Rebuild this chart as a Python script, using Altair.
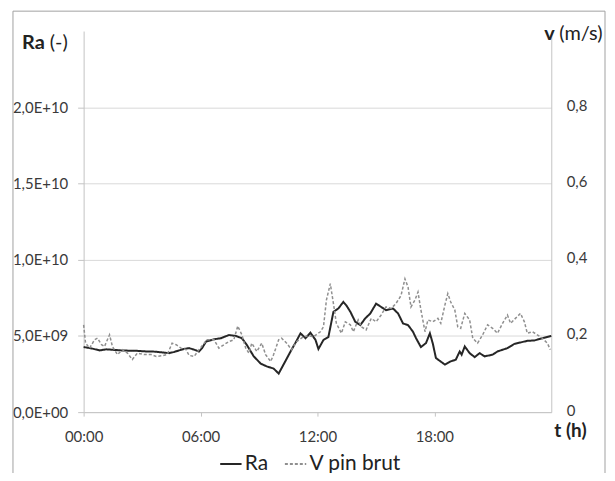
import altair as alt
import pandas as pd

# ---- data ----
ra_hours = [0.0, 0.41, 0.82, 1.17, 1.48, 1.94, 2.35, 2.76, 3.22, 3.63, 4.03, 4.39, 4.65, 4.90,
            5.16, 5.41, 5.67, 5.92, 6.08, 6.28, 6.69, 7.05, 7.46, 7.81, 8.12, 8.37, 8.73, 9.09,
            9.40, 9.75, 10.01, 10.26, 10.62, 10.88, 11.13, 11.39, 11.64, 11.90, 12.05, 12.31,
            12.56, 12.82, 13.07, 13.33, 13.48, 13.69, 13.94, 14.20, 14.45, 14.71, 15.01, 15.27,
            15.52, 15.88, 16.14, 16.39, 16.65, 16.90, 17.06, 17.31, 17.57, 17.77, 17.92, 18.08,
            18.54, 18.84, 19.10, 19.30, 19.40, 19.56, 19.81, 20.07, 20.32, 20.58, 20.99, 21.24,
            21.75, 22.11, 22.42, 22.77, 23.13, 23.54, 24.0]
ra_values = [4.27e9, 4.18e9, 4.05e9, 4.12e9, 4.09e9, 4.05e9, 4.03e9, 4.02e9, 3.98e9, 3.97e9,
             3.92e9, 3.87e9, 3.95e9, 4.05e9, 4.15e9, 4.20e9, 4.10e9, 3.98e9, 4.20e9, 4.63e9,
             4.78e9, 4.85e9, 5.06e9, 5.00e9, 4.85e9, 4.42e9, 3.66e9, 3.18e9, 3.00e9, 2.86e9,
             2.53e9, 3.12e9, 3.98e9, 4.57e9, 5.17e9, 4.85e9, 5.21e9, 4.74e9, 4.14e9, 4.74e9,
             4.92e9, 6.58e9, 6.80e9, 7.23e9, 7.01e9, 6.58e9, 5.93e9, 5.71e9, 6.15e9, 6.47e9,
             7.12e9, 6.90e9, 6.69e9, 6.80e9, 6.47e9, 5.82e9, 5.71e9, 5.28e9, 4.85e9, 4.27e9,
             4.53e9, 5.17e9, 4.50e9, 3.55e9, 3.12e9, 3.33e9, 3.44e9, 3.98e9, 3.77e9, 4.31e9,
             3.87e9, 3.61e9, 3.87e9, 3.66e9, 3.77e9, 3.98e9, 4.20e9, 4.48e9, 4.57e9, 4.68e9,
             4.70e9, 4.85e9, 5.00e9]

v_hours = [0.0, 0.10, 0.31, 0.56, 0.71, 0.92, 1.07, 1.33, 1.48, 1.74, 1.99, 2.25, 2.50, 2.76,
           3.11, 3.47, 3.73, 4.03, 4.29, 4.54, 4.75, 5.00, 5.26, 5.41, 5.67, 5.92, 6.13, 6.33,
           6.69, 6.94, 7.20, 7.46, 7.71, 7.91, 8.12, 8.32, 8.48, 8.63, 8.89, 9.14, 9.34, 9.60,
           9.75, 10.01, 10.16, 10.42, 10.67, 10.93, 11.29, 11.54, 11.80, 12.15, 12.31, 12.46,
           12.66, 12.82, 12.97, 13.23, 13.43, 13.69, 13.84, 14.09, 14.25, 14.50, 14.76, 15.01,
           15.27, 15.52, 15.78, 16.03, 16.29, 16.49, 16.65, 16.80, 17.00, 17.16, 17.31, 17.52,
           17.67, 17.92, 18.18, 18.33, 18.54, 18.69, 18.84, 19.05, 19.20, 19.35, 19.56, 19.81,
           19.97, 20.22, 20.48, 20.73, 20.99, 21.24, 21.50, 21.75, 21.91, 22.16, 22.42, 22.62,
           22.77, 23.03, 23.28, 23.54, 23.80, 23.95]
v_values = [0.229, 0.181, 0.168, 0.190, 0.194, 0.177, 0.172, 0.203, 0.172, 0.151, 0.164, 0.155,
            0.138, 0.155, 0.151, 0.151, 0.146, 0.148, 0.151, 0.181, 0.177, 0.168, 0.164, 0.149,
            0.146, 0.164, 0.177, 0.190, 0.190, 0.168, 0.177, 0.185, 0.190, 0.226, 0.203, 0.168,
            0.155, 0.181, 0.159, 0.181, 0.151, 0.133, 0.151, 0.190, 0.194, 0.181, 0.164, 0.185,
            0.198, 0.200, 0.198, 0.211, 0.224, 0.294, 0.337, 0.285, 0.233, 0.207, 0.237, 0.229,
            0.211, 0.242, 0.224, 0.216, 0.246, 0.237, 0.255, 0.276, 0.272, 0.285, 0.306, 0.350,
            0.328, 0.276, 0.294, 0.315, 0.268, 0.211, 0.242, 0.237, 0.246, 0.233, 0.281, 0.311,
            0.289, 0.268, 0.224, 0.220, 0.259, 0.242, 0.194, 0.181, 0.203, 0.229, 0.220, 0.207,
            0.233, 0.255, 0.233, 0.246, 0.259, 0.237, 0.207, 0.211, 0.203, 0.194, 0.181, 0.164]

series_names = ["Ra", "V pin brut"]
x_tick_values = [0, 6, 12, 18]
x_tick_labels = ["00:00", "06:00", "12:00", "18:00"]
ra_tick_values = [0, 5e9, 1e10, 1.5e10, 2e10]
ra_tick_labels = ["0,0E+00", "5,0E+09", "1,0E+10", "1,5E+10", "2,0E+10"]
v_tick_values = [0, 0.2, 0.4, 0.6, 0.8]
v_tick_labels = ["0", "0,2", "0,4", "0,6", "0,8"]


def label_expr(values, labels):
    expr = "''"
    for val, lab in reversed(list(zip(values, labels))):
        expr = f"abs(datum.value - {val}) < {abs(val) * 1e-6 + 1e-9} ? '{lab}' : ({expr})"
    return expr


df_ra = pd.DataFrame({"t": ra_hours, "val": ra_values, "series": series_names[0]})
df_v = pd.DataFrame({"t": v_hours, "val": v_values, "series": series_names[1]})

FONT = "Lato"
LABEL_COLOR = "#3a3a3a"
W, H = 470, 383

color_scale = alt.Scale(domain=series_names, range=["#262626", "#8f8f8f"])
dash_scale = alt.Scale(domain=series_names, range=[[1, 0], [3, 2]])
legend = alt.Legend(
    title=None, orient="none", legendX=136, legendY=423, direction="horizontal",
    symbolType="stroke", symbolSize=460, symbolStrokeWidth=2, labelFontSize=21,
    labelFont=FONT, labelColor="#222222", labelOffset=2, columnPadding=12, padding=0,
)

x_enc = alt.X(
    "t:Q", title=None,
    scale=alt.Scale(domain=[0, 24], nice=False, zero=False),
    axis=alt.Axis(values=x_tick_values, labelExpr=label_expr(x_tick_values, x_tick_labels),
                  grid=False, domainColor="#c4c4c4", tickColor="#c4c4c4", tickSize=4,
                  labelFlush=False, labelPadding=14, labelFontSize=15, labelFont=FONT,
                  labelColor=LABEL_COLOR),
)

ra_line = alt.Chart(df_ra).mark_line(strokeWidth=2).encode(
    x=x_enc,
    y=alt.Y("val:Q", title=None,
            scale=alt.Scale(domain=[0, 2.5e10], nice=False),
            axis=alt.Axis(orient="left", values=ra_tick_values,
                          labelExpr=label_expr(ra_tick_values, ra_tick_labels),
                          grid=True, gridColor="#d9d9d9", domainColor="#c4c4c4",
                          tickColor="#c4c4c4", tickSize=6, labelPadding=10, labelFlush=False,
                          labelFontSize=15, labelFont=FONT, labelColor=LABEL_COLOR)),
    color=alt.Color("series:N", scale=color_scale, legend=legend),
    strokeDash=alt.StrokeDash("series:N", scale=dash_scale, legend=legend),
)

v_line = alt.Chart(df_v).mark_line(strokeWidth=1.5).encode(
    x=x_enc,
    y=alt.Y("val:Q", title=None,
            scale=alt.Scale(domain=[0, 1.0], nice=False),
            axis=alt.Axis(orient="right", values=v_tick_values,
                          labelExpr=label_expr(v_tick_values, v_tick_labels),
                          grid=False, domainColor="#c4c4c4", ticks=False, labelPadding=15,
                          labelFlush=False, labelOffset=-2, labelFontSize=15, labelFont=FONT,
                          labelColor=LABEL_COLOR)),
    color=alt.Color("series:N", scale=color_scale, legend=legend),
    strokeDash=alt.StrokeDash("series:N", scale=dash_scale, legend=legend),
)

one = pd.DataFrame({"k": [0]})

frame = alt.Chart(one).mark_rect(fillOpacity=0, stroke="#a0a0a0", strokeWidth=1).encode(
    x=alt.value(-71), x2=alt.value(524), y=alt.value(-20), y2=alt.value(520)
)


def txt(s, x, y, align, bold=False, size=20):
    return alt.Chart(one).mark_text(
        text=s, align=align, baseline="alphabetic", font=FONT, fontSize=size,
        fontWeight="bold" if bold else "normal", color="#222222",
    ).encode(x=alt.value(x), y=alt.value(y))


titles = [
    txt("(-)", -16, 18, "right"),
    txt("Ra", -39, 18, "right", bold=True),
    txt("v", 463, 9, "left", bold=True),
    txt("(m/s)", 478, 9, "left"),
    txt("t (h)", 473, 408, "left", bold=True, size=19),
]

chart = alt.layer(frame, ra_line, v_line, *titles).resolve_scale(
    y="independent"
).properties(
    width=W, height=H,
    autosize=alt.AutoSizeParams(type="none"),
    padding={"left": 76, "top": 22, "right": 56, "bottom": 60},
).configure_view(stroke=None)

chart.save("out.html", embed_options={"renderer": "svg", "actions": False})
